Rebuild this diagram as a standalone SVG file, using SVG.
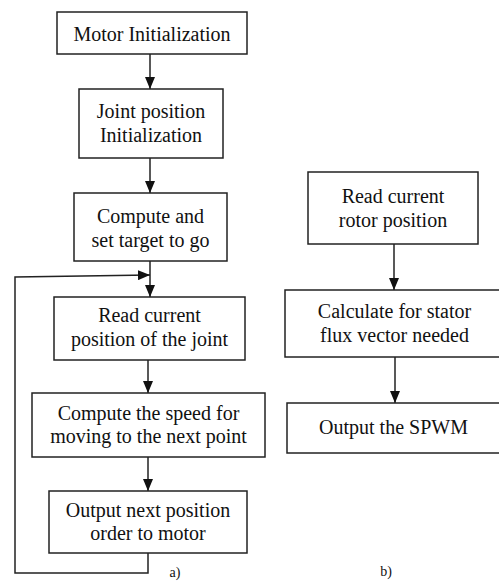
<svg xmlns="http://www.w3.org/2000/svg" width="499" height="581" viewBox="0 0 499 581">
<defs>
<marker id="ah" markerUnits="userSpaceOnUse" markerWidth="12" markerHeight="10" refX="12" refY="5" orient="auto">
<path d="M0,0 L12,5 L0,10 z" fill="#111"/>
</marker>
<style>
.box{fill:#fff;stroke:#222;stroke-width:1.5}
.t{font-family:"Liberation Serif","Times New Roman",serif;font-size:20px;fill:#111;text-anchor:middle}
.lbl{font-family:"Liberation Serif","Times New Roman",serif;font-size:14px;fill:#111;text-anchor:middle}
.c{fill:none;stroke:#222;stroke-width:1.5}
</style>
</defs>
<rect width="499" height="581" fill="#fff"/>
<g id="connectors">
<line class="c" x1="150" y1="54" x2="150" y2="89" marker-end="url(#ah)"/>
<line class="c" x1="150" y1="158" x2="150" y2="193" marker-end="url(#ah)"/>
<line class="c" x1="150" y1="261" x2="150" y2="297" marker-end="url(#ah)"/>
<line class="c" x1="148" y1="360" x2="148" y2="393" marker-end="url(#ah)"/>
<line class="c" x1="148" y1="457" x2="148" y2="491" marker-end="url(#ah)"/>
<path class="c" d="M148,553 V573 H15 V277 L150,275" marker-end="url(#ah)"/>
<line class="c" x1="394" y1="244" x2="394" y2="290" marker-end="url(#ah)"/>
<line class="c" x1="395" y1="357" x2="395" y2="403" marker-end="url(#ah)"/>
</g>
<g id="n1">
<rect class="box" x="57" y="12" width="190" height="42"/>
<text class="t" x="152" y="41">Motor Initialization</text>
</g>
<g id="n2">
<rect class="box" x="79" y="89" width="144" height="69"/>
<text class="t" x="151" y="118">Joint position</text>
<text class="t" x="151" y="142">Initialization</text>
</g>
<g id="n3">
<rect class="box" x="74" y="193" width="153" height="68"/>
<text class="t" x="150.5" y="223">Compute and</text>
<text class="t" x="150.5" y="247">set target to go</text>
</g>
<g id="n4">
<rect class="box" x="54" y="297" width="191" height="63"/>
<text class="t" x="149.5" y="322">Read current</text>
<text class="t" x="149.5" y="346">position of the joint</text>
</g>
<g id="n5">
<rect class="box" x="32" y="393" width="233" height="64"/>
<text class="t" x="148.5" y="420">Compute the speed for</text>
<text class="t" x="148.5" y="443">moving to the next point</text>
</g>
<g id="n6">
<rect class="box" x="49" y="491" width="198" height="62"/>
<text class="t" x="148" y="517">Output next position</text>
<text class="t" x="148" y="540">order to motor</text>
</g>
<g id="n7">
<rect class="box" x="308" y="172" width="170" height="72"/>
<text class="t" x="393" y="203">Read current</text>
<text class="t" x="393" y="227">rotor position</text>
</g>
<g id="n8">
<rect class="box" x="285" y="290" width="220" height="67"/>
<text class="t" x="394.5" y="318">Calculate for stator</text>
<text class="t" x="394.5" y="342">flux vector needed</text>
</g>
<g id="n9">
<rect class="box" x="287" y="403" width="215" height="50"/>
<text class="t" x="393.5" y="434">Output the SPWM</text>
</g>
<text class="lbl" x="175" y="577">a)</text>
<text class="lbl" x="386" y="576">b)</text>
</svg>
